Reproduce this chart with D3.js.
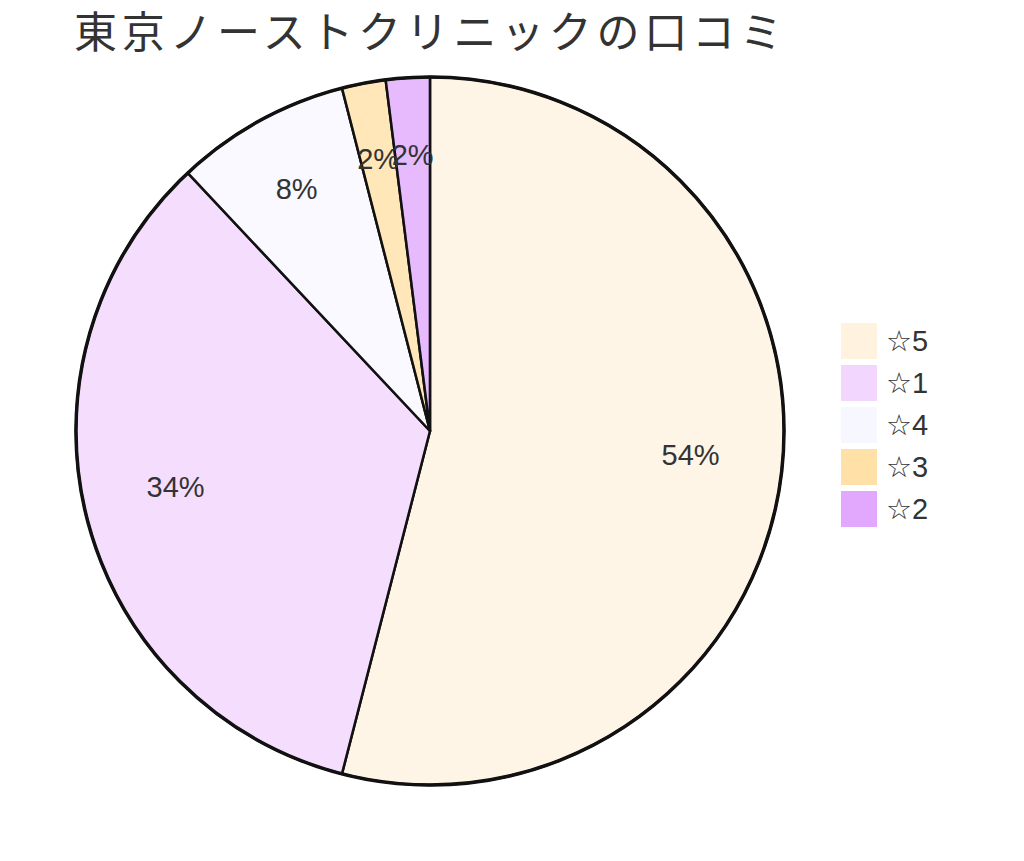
<!DOCTYPE html>
<html>
<head>
<meta charset="utf-8">
<script src="https://cdn.jsdelivr.net/npm/d3@7"></script>
<style>
  body { margin: 0; background: #fff; }
  text { font-family: "Liberation Sans", Arial, "DejaVu Sans", sans-serif; fill: #333; }
  .title { font-family: "Noto Sans CJK JP", sans-serif; }
</style>
</head>
<body>
<div id="chart"></div>
<script>
    // ratings and review counts, clockwise from 12 o'clock
    var categories = ["☆5", "☆1", "☆4", "☆3", "☆2"];
    var counts = [27, 17, 4, 1, 1];
    var colors = ["#fff3e0", "#f3d6fd", "#f7f7ff", "#ffe1a8", "#e1a8fd"];

    var width = 1024;
    var height = 861;
    var radius = 354;
    var cx = 430;
    var cy = 431;

    var svg = d3.select("#chart").append("svg")
        .attr("width", width)
        .attr("height", height);

    svg.append("text")
        .attr("class", "title")
        .attr("x", 74)
        .attr("y", 48)
        .style("font-size", "43px")
        .style("letter-spacing", "4.7px")
        .text("東京ノーストクリニックの口コミ");

    var total = d3.sum(counts);

    var pie = d3.pie()
        .sort(null)
        .value(function(d) { return d; });

    var arcs = pie(counts);

    var arc = d3.arc()
        .innerRadius(0)
        .outerRadius(radius);

    var face = svg.append("g")
        .attr("transform", "translate(" + cx + "," + cy + ")");

    face.selectAll(".slice")
        .data(arcs)
        .enter()
        .append("path")
        .attr("class", "slice")
        .attr("d", arc)
        .attr("fill", function(d, i) { return colors[i]; })
        .attr("fill-opacity", 0.8)
        .attr("stroke", "#111")
        .attr("stroke-width", 2.5)
        .attr("stroke-linejoin", "round");

    face.append("circle")
        .attr("r", radius)
        .attr("fill", "none")
        .attr("stroke", "#111")
        .attr("stroke-width", 3.5);

    // wide slices: label a bit inward and raised, thin slices: pushed out
    face.selectAll(".pct")
        .data(arcs)
        .enter()
        .append("text")
        .attr("class", "pct")
        .attr("text-anchor", "middle")
        .attr("dy", function(d) {
            return (d.endAngle - d.startAngle) > 1 ? "0.02em" : "0.35em";
        })
        .style("font-size", "29px")
        .attr("transform", function(d) {
            var span = d.endAngle - d.startAngle;
            var r = radius * (span > 1 ? 0.742 : 0.782);
            var a = (d.startAngle + d.endAngle) / 2;
            return "translate(" + (r * Math.sin(a)) + "," + (-r * Math.cos(a)) + ")";
        })
        .text(function(d) {
            return Math.round(d.value / total * 100) + "%";
        });

    var legend = svg.append("g")
        .attr("transform", "translate(841,323)");

    var rows = legend.selectAll(".row")
        .data(categories)
        .enter()
        .append("g")
        .attr("class", "row")
        .attr("transform", function(d, i) { return "translate(0," + (i * 42) + ")"; });

    rows.append("rect")
        .attr("width", 36)
        .attr("height", 36)
        .attr("fill", function(d, i) { return colors[i]; });

    rows.append("text")
        .attr("x", 45)
        .attr("y", 18)
        .attr("dy", "0.36em")
        .style("font-size", "29px")
        .text(function(d) { return d; });
</script>
</body>
</html>
